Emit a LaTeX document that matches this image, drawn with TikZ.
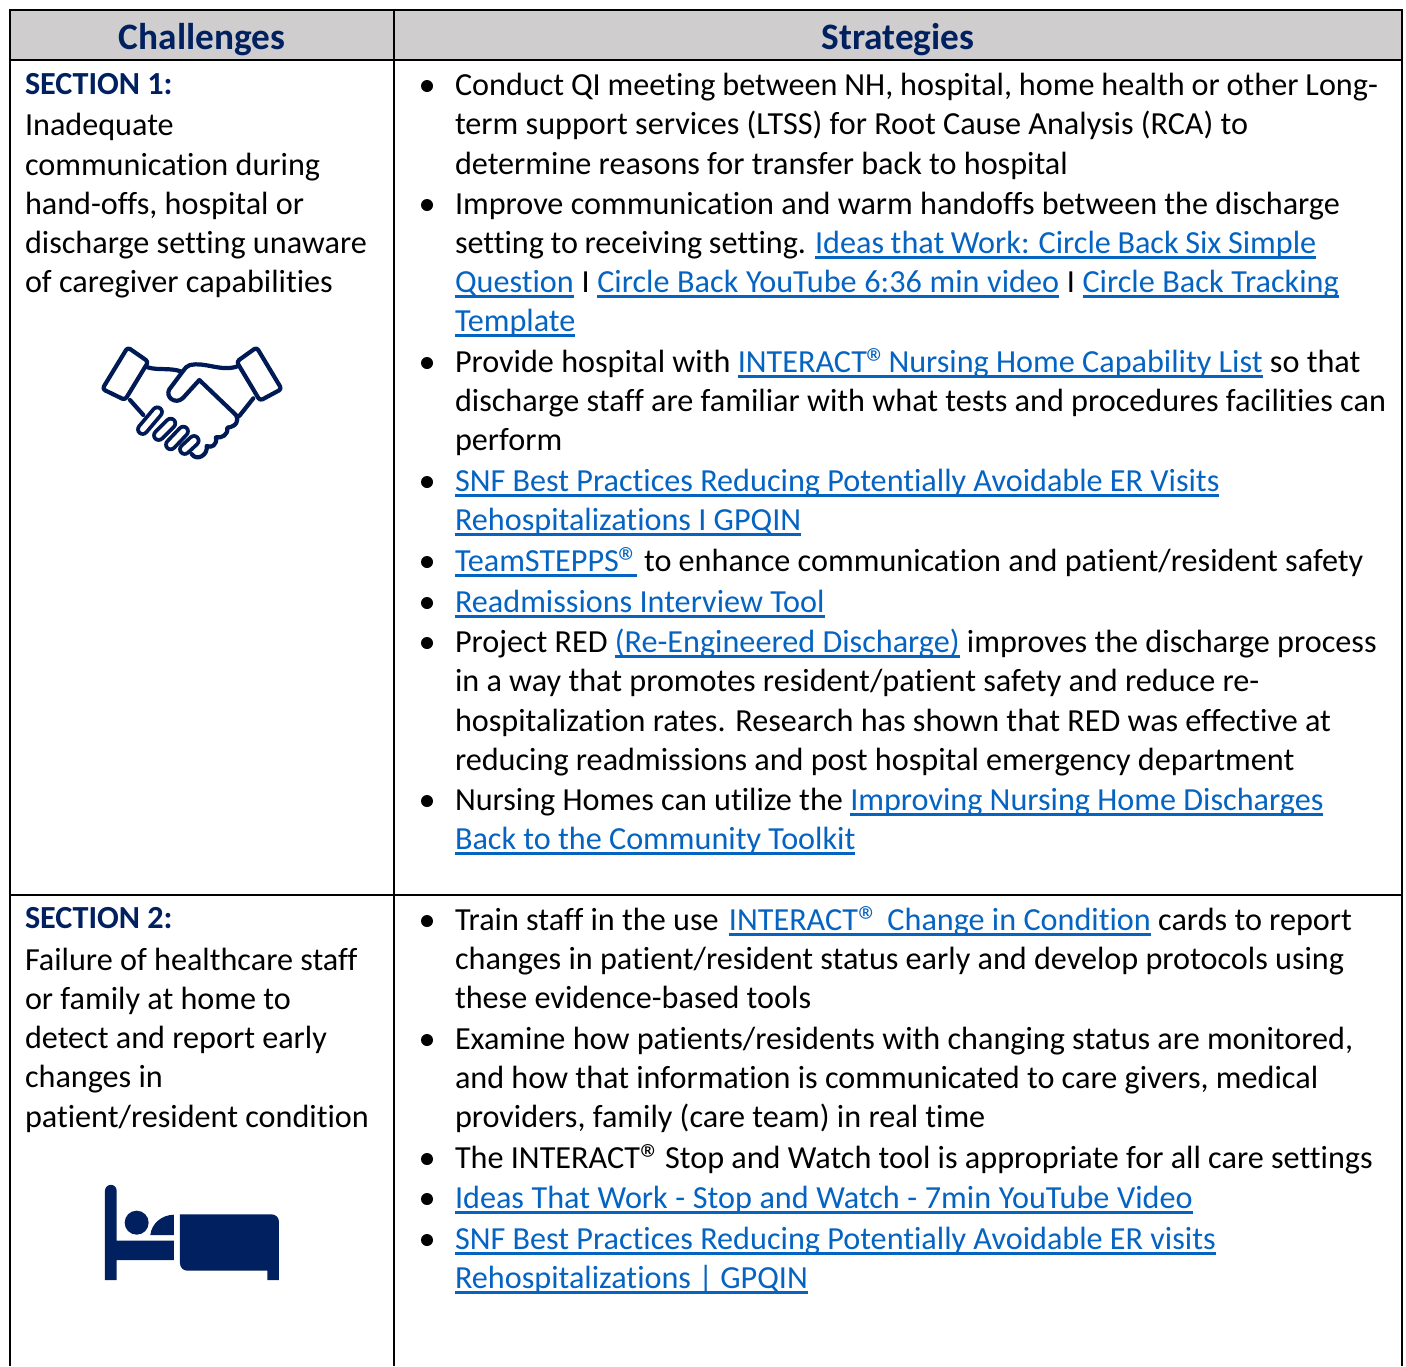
\documentclass[tikz,border=0pt]{standalone}
\usepackage{fontspec}
\setmainfont{Carlito}[Ligatures=NoCommon]
\definecolor{navy}{HTML}{002060}
\definecolor{linkc}{HTML}{0563C1}
\definecolor{headg}{HTML}{CFCDCD}
\definecolor{iconc}{HTML}{001A55}
\newsavebox{\lnkbox}
\newcommand{\lnk}[1]{\sbox{\lnkbox}{\color{linkc}#1}{\color{linkc}\rlap{\rule[-5.7pt]{\wd\lnkbox}{3pt}}\usebox{\lnkbox}}}
\newcommand{\rg}{\raisebox{-5pt}{\fontsize{42}{42}\selectfont ®}\kern-3.5pt{}}
\newcommand{\tl}[4]{\node[txt] (#1) at (#2,#3) {#4};}
\newcommand{\bl}[2]{\node[bul] (#1) at (427,#2) {};}
\tikzset{
 x=1pt,y=-1pt,
 txt/.style={anchor=base west,inner sep=0pt,outer sep=0pt,yshift=1pt,font=\fontsize{32.18}{39}\selectfont,text=black},
 sec/.style={txt,font=\fontsize{32.18}{39}\selectfont\bfseries,text=navy},
 head/.style={anchor=base,inner sep=0pt,outer sep=0pt,font=\fontsize{37.3}{44}\selectfont\bfseries,text=navy},
 bul/.style={circle,fill=black,inner sep=0pt,minimum size=12pt},
 rule/.style={draw=black,line width=2.6pt},
 hand/.style={draw=iconc,line width=4.2pt,line join=round,line cap=round},
 capsule/.style={draw=iconc,line width=3.8pt,line cap=round,double=white,double distance=5.5pt},
}
\begin{document}
\begin{tikzpicture}
\useasboundingbox (0,0) rectangle (1406,1366);
\fill[white] (0,0) rectangle (1406,1366);
\fill[headg] (10,10) rectangle (1402,60);
\draw[rule] (10,1366) -- (10,10) -- (1402,10) -- (1402,1366);
\draw[rule] (10,60) -- (1402,60);
\draw[rule] (394,10) -- (394,1366);
\draw[rule] (10,895) -- (1402,895);
\node[head] (h1) at (202,49) {Challenges};
\node[head] (h2) at (898,49) {Strategies};
% left column
\node[sec] (s1) at (25,95) {SECTION 1:};
\tl{a1}{25}{136}{Inadequate}
\tl{a2}{25}{176}{communication during}
\tl{a3}{25}{215}{hand-offs, hospital or}
\tl{a4}{25}{254}{discharge setting unaware}
\tl{a5}{25}{293}{of caregiver capabilities}
\node[sec] (s2) at (25,929) {SECTION 2:};
\tl{b1}{25}{971}{Failure of healthcare staff}
\tl{b2}{25}{1010}{or family at home to}
\tl{b3}{25}{1049}{detect and report early}
\tl{b4}{25}{1088}{changes in}
\tl{b5}{25}{1128}{patient/resident condition}
% right column, row 1
\bl{p1}{86}
\tl{c1}{455}{96}{\spaceskip=6.87pt Conduct QI meeting between NH, hospital, home health or other Long-}
\tl{c2}{455}{135}{term support services (LTSS) for Root Cause Analysis (RCA) to}
\tl{c3}{455}{175}{determine reasons for transfer back to hospital}
\bl{p2}{205}
\tl{c4}{455}{215}{Improve communication and warm handoffs between the discharge}
\tl{c5}{455}{254}{\spaceskip=6.6pt setting to receiving setting. \lnk{Ideas that Work: Circle Back Six Simple}}
\tl{c6}{455}{293}{\spaceskip=7.67pt \lnk{Question} I \lnk{Circle Back YouTube 6:36 min video} I \lnk{Circle Back Tracking}}
\tl{c7}{455}{332}{\lnk{Template}}
\bl{p3}{363}
\tl{c8}{455}{373}{Provide hospital with \lnk{INTERACT\rg\kern-3.5pt{} Nursing Home Capability List} so that}
\tl{c9}{455}{412}{discharge staff are familiar with what tests and procedures facilities can}
\tl{c10}{455}{451}{perform}
\bl{p4}{482}
\tl{c11}{455}{492}{\lnk{SNF Best Practices Reducing Potentially Avoidable ER Visits}}
\tl{c12}{455}{531}{\lnk{Rehospitalizations I GPQIN}}
\bl{p5}{562}
\tl{c13}{455}{572}{\lnk{TeamSTEPPS\rg} to enhance communication and patient/resident safety}
\bl{p6}{603}
\tl{c14}{455}{613}{\lnk{Readmissions Interview Tool}}
\bl{p7}{643}
\tl{c15}{455}{653}{Project RED \lnk{(Re-Engineered Discharge)} improves the discharge process}
\tl{c16}{455}{692}{in a way that promotes resident/patient safety and reduce re-}
\tl{c17}{455}{732}{hospitalization rates. Research has shown that RED was effective at}
\tl{c18}{455}{771}{reducing readmissions and post hospital emergency department}
\bl{p8}{801}
\tl{c19}{455}{811}{Nursing Homes can utilize the \lnk{Improving Nursing Home Discharges}}
\tl{c20}{455}{850}{\lnk{Back to the Community Toolkit}}
% right column, row 2
\bl{q1}{921}
\tl{d1}{455}{931}{Train staff in the use\kern3pt{} \lnk{INTERACT\rg\kern-3pt~ Change in Condition} cards to report}
\tl{d2}{455}{970}{changes in patient/resident status early and develop protocols using}
\tl{d3}{455}{1009}{these evidence-based tools}
\bl{q2}{1040}
\tl{d4}{455}{1050}{Examine how patients/residents with changing status are monitored,}
\tl{d5}{455}{1089}{and how that information is communicated to care givers, medical}
\tl{d6}{455}{1128}{providers, family (care team) in real time}
\bl{q3}{1159}
\tl{d7}{455}{1169}{The INTERACT\rg{} Stop and Watch tool is appropriate for all care settings}
\bl{q4}{1199}
\tl{d8}{455}{1209}{\spaceskip=7.6pt \lnk{Ideas That Work - Stop and Watch - 7min YouTube Video}}
\bl{q5}{1240}
\tl{d9}{455}{1250}{\lnk{SNF Best Practices Reducing Potentially Avoidable ER visits}}
\tl{d10}{455}{1289}{\lnk{Rehospitalizations | GPQIN}}
% handshake icon
\begin{scope}[shift={(80,330)},x=0.3333pt,y=-0.3333pt]
 \draw[hand,fill=white,rounded corners=3pt] (143,52) -- (205,95) -- (135,210) -- (67,177) -- cycle;
 \draw[hand,fill=white,rounded corners=3pt] (530,52) -- (470,95) -- (540,212) -- (605,177) -- cycle;
 \draw[hand] (203,112) .. controls (235,122) and (270,112) .. (305,125);
 \draw[hand] (150,210) -- (190,255);
 \draw[hand] (520,205) -- (478,258);
 \draw[hand] (470,110) .. controls (420,125) and (375,95) .. (330,105) .. controls (320,108) and (315,115) .. (310,122) -- (268,178) .. controls (255,200) and (285,225) .. (308,205) -- (358,150) -- (468,255) .. controls (478,270) and (470,290) .. (442,293) .. controls (445,315) and (425,325) .. (408,322) .. controls (412,345) and (395,355) .. (380,348) .. controls (385,375) and (350,395) .. (335,372);
 \draw[capsule] (232,246) -- (188,298);
 \draw[capsule] (272,280) -- (236,316);
 \draw[capsule] (310,304) -- (272,344);
 \draw[capsule] (342,332) -- (314,358);
\end{scope}
% bed icon
\begin{scope}[shift={(90,1170)},x=0.3333pt,y=-0.3333pt]
 \fill[navy] (45,330) -- (45,62) arc[start angle=180,end angle=360,radius=17.5] -- (80,212) -- (252,212) -- (252,270) -- (80,270) -- (80,330) -- cycle;
 \fill[navy] (140,158) circle[radius=36];
 \fill[navy] (181,195) .. controls (185,160) and (215,135) .. (252,134) -- (252,195) -- cycle;
 \fill[navy] (270,133) -- (545,133) arc[start angle=270,end angle=360,radius=22] -- (567,330) -- (532,330) -- (532,302) -- (292,302) arc[start angle=90,end angle=180,radius=22] -- cycle;
\end{scope}
\end{tikzpicture}
\end{document}
